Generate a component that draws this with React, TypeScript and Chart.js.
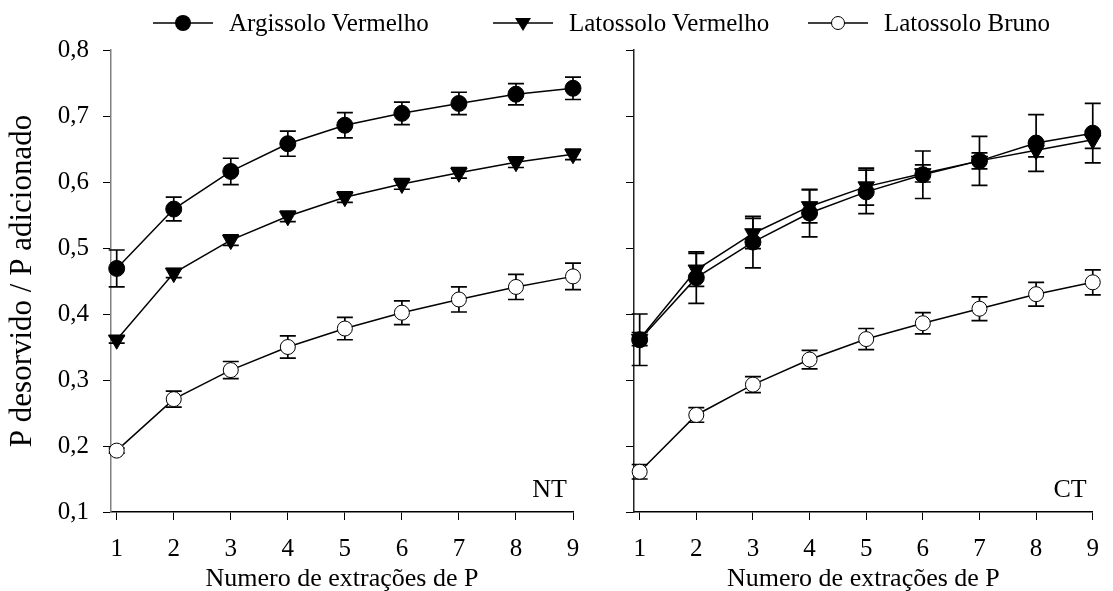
import React, { useEffect, useRef } from "react";
import { Chart, registerables } from "chart.js";

Chart.register(...registerables);

// ---------- data ----------
const extractions = [1, 2, 3, 4, 5, 6, 7, 8, 9];
const xTicks = [1, 2, 3, 4, 5, 6, 7, 8, 9];
const yTicks = [0.1, 0.2, 0.3, 0.4, 0.5, 0.6, 0.7, 0.8];

const seriesNames = ["Argissolo Vermelho", "Latossolo Vermelho", "Latossolo Bruno"];
const panelLabels = ["NT", "CT"];
const xTitle = "Numero de extrações de P";
const yTitle = "P desorvido / P adicionado";

// NT
const argNT = [0.469, 0.559, 0.616, 0.658, 0.686, 0.704, 0.719, 0.733, 0.742];
const argNTErr = [0.028, 0.018, 0.02, 0.019, 0.019, 0.017, 0.017, 0.016, 0.017];
const latVNT = [0.361, 0.462, 0.512, 0.548, 0.577, 0.597, 0.614, 0.63, 0.642];
const latVNTErr = [0.005, 0.007, 0.008, 0.008, 0.008, 0.008, 0.008, 0.008, 0.008];
const latBNT = [0.193, 0.271, 0.315, 0.35, 0.378, 0.402, 0.422, 0.441, 0.457];
const latBNTErr = [0.004, 0.012, 0.013, 0.017, 0.017, 0.018, 0.019, 0.019, 0.02];

// CT
const argCT = [0.361, 0.455, 0.509, 0.553, 0.585, 0.611, 0.632, 0.659, 0.674];
const argCTErr = [0.039, 0.039, 0.039, 0.036, 0.033, 0.036, 0.037, 0.043, 0.045];
const latVCT = [0.362, 0.467, 0.522, 0.563, 0.593, 0.613, 0.632, 0.648, 0.664];
const latVCTErr = [0.01, 0.025, 0.023, 0.025, 0.028, 0.013, 0.012, 0.01, 0.013];
const latBCT = [0.161, 0.247, 0.293, 0.331, 0.362, 0.386, 0.408, 0.43, 0.448];
const latBCTErr = [0.011, 0.011, 0.012, 0.014, 0.016, 0.016, 0.018, 0.018, 0.019];

const FONT = "'Liberation Serif', 'Times New Roman', serif";

const errorBarPlugin = {
  id: "errorBars",
  beforeDatasetsDraw(chart: any) {
    const { ctx } = chart;
    const xs = chart.scales.x;
    const ys = chart.scales.y;
    const cap = 8;
    chart.data.datasets.forEach((ds: any) => {
      const errs: number[] = ds.errors;
      if (!errs) return;
      ctx.save();
      ctx.strokeStyle = "#000";
      ctx.lineWidth = 1.7;
      ds.data.forEach((p: any, j: number) => {
        const e = errs[j];
        if (!e) return;
        const x = xs.getPixelForValue(p.x);
        const y1 = ys.getPixelForValue(p.y - e);
        const y2 = ys.getPixelForValue(p.y + e);
        ctx.beginPath();
        ctx.moveTo(x, y1);
        ctx.lineTo(x, y2);
        ctx.moveTo(x - cap, y1);
        ctx.lineTo(x + cap, y1);
        ctx.moveTo(x - cap, y2);
        ctx.lineTo(x + cap, y2);
        ctx.stroke();
      });
      ctx.restore();
    });
  },
};

const panelLabelPlugin = {
  id: "panelLabel",
  afterDatasetsDraw(chart: any) {
    const txt = chart.options.plugins.panelLabel?.text;
    if (!txt) return;
    const { ctx, chartArea } = chart;
    ctx.save();
    ctx.fillStyle = "#000";
    ctx.font = `26px ${FONT}`;
    ctx.textAlign = "right";
    ctx.textBaseline = "alphabetic";
    ctx.fillText(txt, chartArea.right - 6, chartArea.bottom - 15);
    ctx.restore();
  },
};

function makeSeries(vals: number[], errs: number[], idx: number) {
  const styles = [
    { pointStyle: "circle", bg: "#000", radius: 8, rotation: 0 },
    { pointStyle: "triangle", bg: "#000", radius: 9.5, rotation: 180 },
    { pointStyle: "circle", bg: "#fff", radius: 7.5, rotation: 0 },
  ][idx];
  return {
    label: seriesNames[idx],
    data: extractions.map((x, i) => ({ x, y: vals[i] })),
    errors: errs,
    borderColor: "#000",
    borderWidth: 1.5,
    pointStyle: styles.pointStyle,
    pointRotation: styles.rotation,
    pointRadius: styles.radius,
    pointBackgroundColor: styles.bg,
    pointBorderColor: "#000",
    pointBorderWidth: 1,
    tension: 0,
    fill: false,
    clip: false,
  };
}

function buildConfig(left: boolean, datasets: any[], label: string) {
  return {
    type: "line",
    data: { datasets },
    options: {
      animation: false,
      responsive: false,
      devicePixelRatio: 1,
      layout: { padding: { top: 50, right: left ? 27 : 16, bottom: 0, left: 0 } },
      plugins: {
        legend: { display: false },
        tooltip: { enabled: false },
        panelLabel: { text: label },
      },
      scales: {
        x: {
          type: "linear",
          min: 0.9,
          max: 9,
          bounds: "data",
          afterBuildTicks: (s: any) => {
            s.ticks = xTicks.map((v) => ({ value: v }));
          },
          afterFit: (s: any) => {
            s.height = 79;
          },
          ticks: {
            color: "#000",
            font: { family: FONT, size: 25 },
            padding: 14,
            maxRotation: 0,
            autoSkip: false,
            callback: (v: any) => String(v),
          },
          grid: {
            drawOnChartArea: false,
            drawTicks: true,
            tickLength: 8,
            color: "#000",
            lineWidth: 1,
          },
          border: { display: true, color: "#000", width: 1.5 },
          title: {
            display: true,
            text: xTitle,
            color: "#000",
            font: { family: FONT, size: 26 },
            padding: { top: 0, bottom: -4 },
          },
        },
        y: {
          type: "linear",
          min: 0.1,
          max: 0.8,
          afterBuildTicks: (s: any) => {
            s.ticks = yTicks.map((v) => ({ value: v }));
          },
          afterFit: (s: any) => {
            s.width = left ? 111 : 34;
          },
          ticks: {
            color: "#000",
            font: { family: FONT, size: 25 },
            padding: 14,
            callback: (v: any) => (left ? Number(v).toFixed(1).replace(".", ",") : ""),
          },
          grid: {
            drawOnChartArea: false,
            drawTicks: true,
            tickLength: 8,
            color: "#000",
            lineWidth: 1,
          },
          border: { display: true, color: left ? "#808080" : "#222", width: 1.5 },
          title: {
            display: left,
            text: yTitle,
            color: "#000",
            font: { family: FONT, size: 31 },
            padding: { top: 4, bottom: 0 },
          },
        },
      },
    },
    plugins: [errorBarPlugin, panelLabelPlugin],
  };
}

function LegendMarker({ kind }: { kind: number }) {
  return (
    <svg width={60} height={24} style={{ display: "block" }}>
      <line x1={0} y1={12} x2={60} y2={12} stroke="#000" strokeWidth={1.5} />
      {kind === 0 && <circle cx={30} cy={12} r={8} fill="#000" />}
      {kind === 1 && <polygon points="22,7 38,7 30,20" fill="#000" />}
      {kind === 2 && <circle cx={30} cy={12} r={6.5} fill="#fff" stroke="#000" strokeWidth={1} />}
    </svg>
  );
}

const legendLineX = [153, 493, 808];

export default function App() {
  const leftRef = useRef<HTMLCanvasElement>(null);
  const rightRef = useRef<HTMLCanvasElement>(null);

  useEffect(() => {
    const c1 = new Chart(
      leftRef.current as HTMLCanvasElement,
      buildConfig(
        true,
        [makeSeries(argNT, argNTErr, 0), makeSeries(latVNT, latVNTErr, 1), makeSeries(latBNT, latBNTErr, 2)],
        panelLabels[0]
      ) as any
    );
    const c2 = new Chart(
      rightRef.current as HTMLCanvasElement,
      buildConfig(
        false,
        [makeSeries(argCT, argCTErr, 0), makeSeries(latVCT, latVCTErr, 1), makeSeries(latBCT, latBCTErr, 2)],
        panelLabels[1]
      ) as any
    );
    return () => {
      c1.destroy();
      c2.destroy();
    };
  }, []);

  return (
    <div
      style={{
        position: "absolute",
        left: 0,
        top: 0,
        width: 1113,
        height: 591,
        background: "#fff",
        overflow: "hidden",
      }}
    >
      <canvas
        ref={leftRef}
        width={600}
        height={591}
        style={{ position: "absolute", left: 0, top: 0, width: 600, height: 591 }}
      />
      <canvas
        ref={rightRef}
        width={513}
        height={591}
        style={{ position: "absolute", left: 600, top: 0, width: 513, height: 591 }}
      />
      {seriesNames.map((name, i) => (
        <div
          key={name}
          style={{
            position: "absolute",
            left: legendLineX[i],
            top: 10,
            height: 26,
            display: "flex",
            alignItems: "center",
            fontFamily: FONT,
            fontSize: 25,
            color: "#000",
            whiteSpace: "nowrap",
          }}
        >
          <LegendMarker kind={i} />
          <span style={{ marginLeft: 16 }}>{name}</span>
        </div>
      ))}
    </div>
  );
}
